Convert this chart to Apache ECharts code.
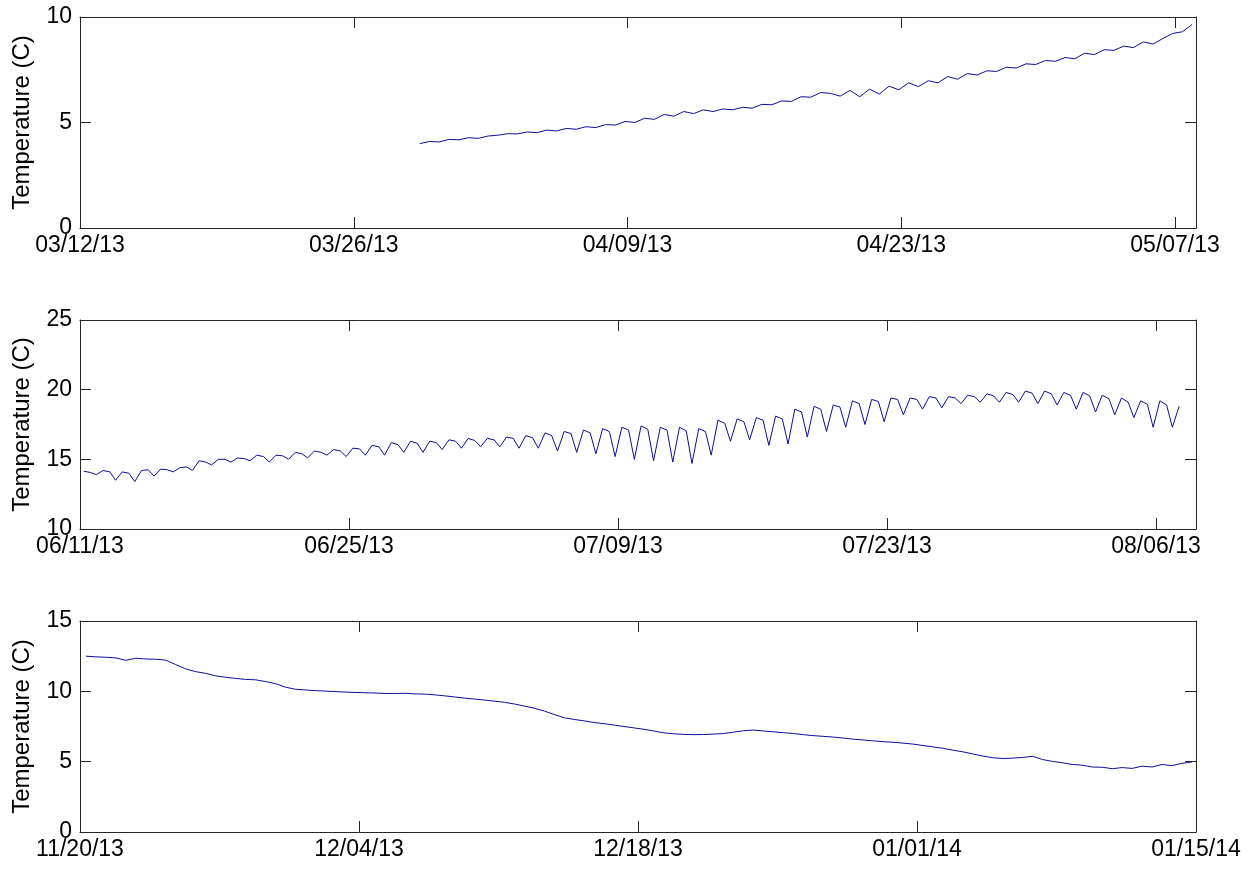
<!DOCTYPE html>
<html><head><meta charset="utf-8">
<script src="https://cdn.jsdelivr.net/npm/echarts@6/dist/echarts.min.js"></script>
<style>html,body{margin:0;padding:0;background:#fff}#c{width:1257px;height:871px}</style>
</head><body><div id="c"></div>
<script>
// ---------- Panel 1: 03/12/13 .. 05/08/13 (x = days since 03/12/13) ----------
const p1XLabels = ['03/12/13','03/26/13','04/09/13','04/23/13','05/07/13'];
const p1YTicks = [0, 5, 10];
const p1XMax = 57.07;
const p1Start = 17.375, p1Step = 0.5;
const p1Temp = [
 4.00,4.10,4.08,4.20,4.18,4.28,4.25,4.36,4.40,4.47,
 4.46,4.55,4.52,4.64,4.60,4.72,4.68,4.80,4.76,4.90,
 4.88,5.05,5.00,5.20,5.15,5.38,5.30,5.52,5.42,5.60,
 5.52,5.64,5.60,5.72,5.68,5.86,5.84,6.02,6.00,6.22,
 6.20,6.42,6.38,6.25,6.52,6.22,6.58,6.35,6.72,6.55,
 6.88,6.70,6.98,6.88,7.18,7.05,7.32,7.25,7.45,7.42,
 7.62,7.58,7.78,7.75,7.94,7.90,8.08,8.02,8.28,8.22,
 8.45,8.42,8.62,8.55,8.82,8.72,8.98,9.22,9.30,9.65
];

// ---------- Panel 2: 06/11/13 .. 08/08/13 (x = days since 06/11/13) ----------
const p2XLabels = ['06/11/13','06/25/13','07/09/13','07/23/13','08/06/13'];
const p2YTicks = [10, 15, 20, 25];
const p2XMax = 58.08;
const p2EarlyOffset = 0.2, p2LateOffset = 0.55, p2LowOffset = 0.85;
const p2EarlyHigh = [
 14.15,14.2,14.1,14.2,14.3,14.4,14.9,15.0,15.1,15.3,
 15.3,15.5,15.6,15.7,15.8,16.0,16.2,16.3,16.3,16.4,
 16.5,16.5,16.6,16.7,16.9,17.0,17.1,17.2,17.3,17.4,
 17.3,17.3,17.2,17.8,17.9,18.0,18.1,18.6,18.8,18.9,
 19.2,19.3,19.4,19.4,19.5,19.5,19.6,19.7,19.8,19.9,
 19.9,19.8,19.8,19.6,19.4,19.2,19.2,18.8
];
const p2LateHigh = [
 14.05,14.1,14.0,14.25,14.25,14.45,14.8,15.0,15.05,15.2,
 15.25,15.4,15.5,15.6,15.75,15.9,16.05,16.15,16.2,16.3,
 16.35,16.4,16.5,16.55,16.7,16.85,16.9,17.0,17.1,17.15,
 17.1,17.05,17.0,17.6,17.7,17.8,17.9,18.4,18.6,18.75,
 19.0,19.15,19.3,19.3,19.4,19.4,19.5,19.55,19.65,19.75,
 19.7,19.6,19.55,19.35,19.1,18.95,18.9
];
const p2DailyLow = [
 13.9,13.5,13.4,13.8,14.1,14.2,14.6,14.8,14.9,14.8,
 15.0,15.1,15.3,15.2,15.3,15.3,15.5,15.5,15.7,15.8,
 15.9,15.9,15.8,15.8,15.6,15.5,15.4,15.2,15.0,14.9,
 14.8,14.7,15.3,16.3,16.4,16.0,16.1,16.6,17.0,17.3,
 17.5,17.7,18.2,18.6,18.7,19.0,19.1,19.1,19.1,19.0,
 18.9,18.6,18.4,18.2,18.0,17.3,17.3
];

// ---------- Panel 3: 11/20/13 .. 01/15/14 (x = days since 11/20/13) ----------
const p3XLabels = ['11/20/13','12/04/13','12/18/13','01/01/14','01/15/14'];
const p3YTicks = [0, 5, 10, 15];
const p3XMax = 56;
const p3Start = 0.3, p3Step = 0.5;
const p3Temp = [
 12.50,12.45,12.42,12.38,12.20,12.35,12.30,12.28,12.22,11.90,
 11.60,11.40,11.28,11.10,11.00,10.92,10.85,10.82,10.70,10.55,
 10.30,10.15,10.10,10.05,10.02,9.98,9.95,9.92,9.90,9.88,
 9.85,9.85,9.86,9.82,9.80,9.75,9.68,9.60,9.52,9.45,
 9.38,9.30,9.22,9.10,8.95,8.80,8.60,8.35,8.12,8.00,
 7.90,7.78,7.70,7.60,7.50,7.40,7.30,7.18,7.05,6.98,
 6.94,6.92,6.93,6.96,7.00,7.10,7.20,7.25,7.18,7.12,
 7.06,7.00,6.92,6.85,6.80,6.75,6.68,6.60,6.54,6.48,
 6.42,6.38,6.32,6.25,6.15,6.05,5.95,5.82,5.70,5.55,
 5.40,5.28,5.22,5.25,5.30,5.38,5.15,5.02,4.92,4.80,
 4.75,4.62,4.60,4.50,4.58,4.52,4.68,4.62,4.80,4.72,
 4.88,4.98
];

const X_TICK_DAYS = 14;
const FONT = 'Liberation Sans, Arial, sans-serif';
const AX = '#262626';
const LINE = '#0d0d9a';

function regular(start, step, vals) { return vals.map((v, i) => [start + i * step, v]); }
function dailyPoints(early, late, low, oe, ol, ow) {
  const out = [];
  for (let i = 0; i < early.length; i++) {
    out.push([i + oe, early[i]]);
    if (i < late.length) out.push([i + ol, late[i]]);
    if (i < low.length) out.push([i + ow, low[i]]);
  }
  return out;
}

const grids = [
  { left: 80, top: 17, width: 1116, height: 211 },
  { left: 80, top: 320, width: 1116, height: 209 },
  { left: 80, top: 621, width: 1116, height: 211 }
];
const panels = [
  { labels: p1XLabels, yt: p1YTicks, xmax: p1XMax, data: regular(p1Start, p1Step, p1Temp) },
  { labels: p2XLabels, yt: p2YTicks, xmax: p2XMax,
    data: dailyPoints(p2EarlyHigh, p2LateHigh, p2DailyLow, p2EarlyOffset, p2LateOffset, p2LowOffset) },
  { labels: p3XLabels, yt: p3YTicks, xmax: p3XMax, data: regular(p3Start, p3Step, p3Temp) }
];

const xAxis = [], yAxis = [], series = [];
const lineStyle = { show: true, onZero: false, lineStyle: { color: AX, width: 1 } };
const tickStyle = (len) => ({ show: true, inside: true, length: len, lineStyle: { color: AX, width: 1 } });

panels.forEach((p, gi) => {
  const fmt = (v) => {
    const k = v / X_TICK_DAYS, r = Math.round(k);
    return (Math.abs(k - r) < 1e-6 && p.labels[r] !== undefined) ? p.labels[r] : '';
  };
  xAxis.push({
    type: 'value', gridIndex: gi, position: 'bottom', min: 0, max: p.xmax, interval: X_TICK_DAYS,
    axisLine: lineStyle, axisTick: tickStyle(11), splitLine: { show: false },
    axisLabel: { show: true, formatter: fmt, margin: 6, color: '#000', fontSize: 23, fontFamily: FONT, showMaxLabel: true, hideOverlap: false }
  });
  xAxis.push({
    type: 'value', gridIndex: gi, position: 'top', min: 0, max: p.xmax, interval: X_TICK_DAYS,
    axisLine: lineStyle, axisTick: tickStyle(11), splitLine: { show: false }, axisLabel: { show: false }
  });
  const ymin = p.yt[0], ymax = p.yt[p.yt.length - 1];
  yAxis.push({
    type: 'value', gridIndex: gi, position: 'left', min: ymin, max: ymax, interval: 5,
    name: 'Temperature (C)', nameLocation: 'middle', nameGap: 46,
    nameTextStyle: { color: '#000', fontSize: 24, fontFamily: FONT },
    axisLine: lineStyle, axisTick: tickStyle(11), splitLine: { show: false },
    axisLabel: { show: true, margin: 8, color: '#000', fontSize: 23, fontFamily: FONT }
  });
  yAxis.push({
    type: 'value', gridIndex: gi, position: 'right', min: ymin, max: ymax, interval: 5,
    axisLine: lineStyle, axisTick: tickStyle(11), splitLine: { show: false }, axisLabel: { show: false }
  });
  series.push({
    type: 'line', xAxisIndex: gi * 2, yAxisIndex: gi * 2, data: p.data,
    showSymbol: false, symbol: 'none', lineStyle: { color: LINE, width: 1 }, itemStyle: { color: LINE },
    animation: false, silent: true, clip: true
  });
});

const chart = echarts.init(document.getElementById('c'), null, { renderer: 'canvas' });
chart.setOption({
  animation: false,
  backgroundColor: '#fff',
  grid: grids.map(g => Object.assign({ containLabel: false, outerBoundsMode: 'none' }, g)),
  xAxis, yAxis, series
});
</script>
</body></html>
